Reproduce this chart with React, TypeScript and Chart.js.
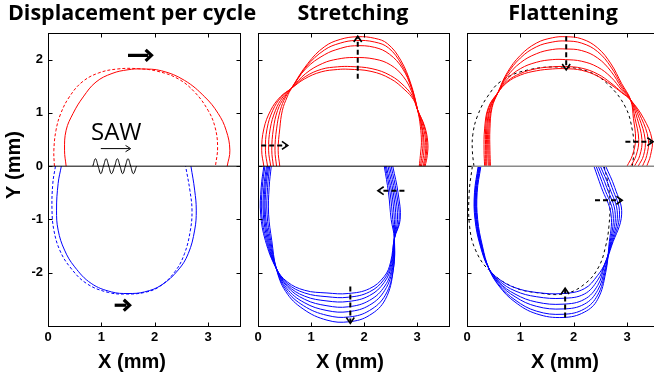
import React, { useEffect, useRef } from 'react';
import { Chart, registerables } from 'chart.js';

Chart.register(...registerables);

type Pt = [number, number];
type ArrowKind = 'bold' | 'dash' | 'thin';
interface Arrow { from: Pt; to: Pt; kind: ArrowKind }
interface Series { points: Pt[]; color: string; dash?: number[]; width?: number; tension?: number }

// ---------------- axes ----------------
const xMin = 0, xMax = 3.6, yMin = -3, yMax = 2.5;
const tickStep = 1;
const hiddenYTick = -3;

// ---------------- texts ----------------
const panelTitles = ['Displacement per cycle', 'Stretching', 'Flattening'];
const xAxisTitle = 'X (mm)';
const yAxisTitle = 'Y (mm)';
const sawLabel = 'SAW';
const sawLabelAt: Pt = [1.28, 0.49];

// ---------------- panel 1: displacement per cycle ----------------
const dispRedSolid: Pt[] = [[0.34,0],[0.31,0.3],[0.34,0.675],[0.47,0.99],[0.66,1.3],[0.9,1.58],[1.2,1.74],[1.5,1.81],[1.75,1.825],[2.13,1.79],[2.56,1.61],[2.94,1.3],[3.19,0.99],[3.34,0.675],[3.41,0.3],[3.36,0]];
const dispRedDashed: Pt[] = [[0.12,0],[0.11,0.3],[0.15,0.675],[0.24,0.99],[0.4,1.3],[0.64,1.58],[0.95,1.75],[1.31,1.825],[1.69,1.83],[2.06,1.78],[2.44,1.64],[2.75,1.39],[3.0,1.05],[3.13,0.74],[3.18,0.36],[3.14,0]];
const dispBlueSolid: Pt[] = [[0.25,0],[0.19,-0.325],[0.16,-0.825],[0.19,-1.2],[0.31,-1.575],[0.5,-1.89],[0.81,-2.2],[1.19,-2.36],[1.5,-2.39],[1.81,-2.36],[2.13,-2.23],[2.44,-1.95],[2.63,-1.64],[2.75,-1.2],[2.78,-0.825],[2.75,-0.45],[2.68,0]];
const dispBlueDashed: Pt[] = [[0.14,0],[0.09,-0.325],[0.075,-0.825],[0.11,-1.2],[0.22,-1.575],[0.41,-1.89],[0.72,-2.2],[1.13,-2.37],[1.47,-2.4],[1.81,-2.37],[2.09,-2.26],[2.38,-1.98],[2.56,-1.64],[2.67,-1.2],[2.7,-0.825],[2.66,-0.45],[2.58,0]];
const sawWave: Pt[] = [[0.84,0],[0.89,0.14],[0.94,0],[0.99,-0.14],[1.04,0],[1.09,0.14],[1.14,0],[1.19,-0.14],[1.25,0],[1.3,0.14],[1.35,0],[1.4,-0.14],[1.45,0],[1.5,0.14],[1.55,0],[1.6,-0.14],[1.66,0]];
const zeroLine: Pt[] = [[0,0],[3.6,0]];
const dispArrows: Arrow[] = [
  { from: [1.5, 2.08], to: [1.94, 2.08], kind: 'bold' },
  { from: [1.25, -2.61], to: [1.53, -2.61], kind: 'bold' },
  { from: [0.99, 0.33], to: [1.55, 0.33], kind: 'thin' },
];

// ---------------- panel 2: stretching ----------------
const stretchRed0: Pt[] = [[0.11,0],[0.07,0.3],[0.11,0.7],[0.24,1.05],[0.42,1.3],[0.63,1.46],[0.88,1.64],[1.19,1.77],[1.5,1.815],[1.7,1.82],[2.13,1.78],[2.5,1.64],[2.77,1.43],[2.93,1.25],[3.01,1.05],[3.14,0.75],[3.2,0.45],[3.19,0.2],[3.15,0]];
const stretchRed1: Pt[] = [[0.18,0],[0.14,0.3],[0.17,0.7],[0.28,1.05],[0.44,1.3],[0.63,1.46],[0.89,1.68],[1.2,1.82],[1.5,1.865],[1.75,1.87],[2.15,1.83],[2.5,1.7],[2.76,1.5],[2.92,1.3],[3.01,1.05],[3.13,0.75],[3.18,0.45],[3.17,0.2],[3.13,0]];
const stretchRed2: Pt[] = [[0.24,0],[0.2,0.3],[0.23,0.7],[0.33,1.05],[0.47,1.3],[0.63,1.46],[0.9,1.74],[1.22,1.93],[1.5,2.01],[1.8,2.04],[2.2,2.01],[2.5,1.9],[2.74,1.68],[2.9,1.39],[3.01,1.05],[3.11,0.75],[3.16,0.45],[3.15,0.2],[3.11,0]];
const stretchRed3: Pt[] = [[0.29,0],[0.26,0.3],[0.29,0.7],[0.37,1.05],[0.5,1.3],[0.63,1.46],[0.9,1.83],[1.25,2.09],[1.55,2.21],[1.82,2.26],[2.2,2.23],[2.48,2.1],[2.72,1.84],[2.89,1.47],[3.01,1.05],[3.09,0.75],[3.13,0.45],[3.12,0.2],[3.08,0]];
const stretchRed4: Pt[] = [[0.35,0],[0.32,0.3],[0.35,0.7],[0.42,1.05],[0.52,1.3],[0.63,1.46],[0.92,1.88],[1.25,2.18],[1.55,2.31],[1.85,2.36],[2.2,2.33],[2.46,2.22],[2.7,1.92],[2.88,1.52],[3.01,1.05],[3.08,0.75],[3.11,0.45],[3.09,0.2],[3.06,0]];
const stretchRed5: Pt[] = [[0.41,0],[0.38,0.3],[0.41,0.7],[0.46,1.05],[0.55,1.3],[0.63,1.46],[0.94,1.93],[1.25,2.24],[1.55,2.38],[1.88,2.43],[2.2,2.4],[2.44,2.3],[2.69,1.99],[2.88,1.55],[3.01,1.05],[3.06,0.75],[3.08,0.45],[3.06,0.2],[3.04,0]];
const stretchBlue0: Pt[] = [[0.11,0],[0.06,-0.4],[0.05,-0.9],[0.14,-1.4],[0.345,-1.92],[0.55,-2.17],[0.88,-2.33],[1.3,-2.38],[1.7,-2.39],[2.1,-2.3],[2.38,-2.07],[2.5,-1.8],[2.57,-1.36],[2.68,-1.0],[2.64,-0.5],[2.54,0]];
const stretchBlue1: Pt[] = [[0.13,0],[0.08,-0.4],[0.07,-0.9],[0.16,-1.4],[0.345,-1.92],[0.55,-2.2],[0.88,-2.38],[1.3,-2.45],[1.7,-2.46],[2.1,-2.36],[2.38,-2.12],[2.51,-1.82],[2.57,-1.36],[2.66,-1.0],[2.61,-0.5],[2.51,0]];
const stretchBlue2: Pt[] = [[0.16,0],[0.11,-0.4],[0.1,-0.9],[0.18,-1.4],[0.345,-1.92],[0.55,-2.23],[0.88,-2.44],[1.3,-2.53],[1.7,-2.54],[2.1,-2.43],[2.38,-2.18],[2.52,-1.85],[2.57,-1.36],[2.63,-1.0],[2.58,-0.5],[2.48,0]];
const stretchBlue3: Pt[] = [[0.18,0],[0.13,-0.4],[0.12,-0.9],[0.2,-1.4],[0.345,-1.92],[0.55,-2.26],[0.88,-2.5],[1.3,-2.62],[1.7,-2.64],[2.1,-2.52],[2.39,-2.25],[2.53,-1.88],[2.57,-1.36],[2.6,-1.0],[2.55,-0.5],[2.45,0]];
const stretchBlue4: Pt[] = [[0.2,0],[0.15,-0.4],[0.14,-0.9],[0.22,-1.4],[0.345,-1.92],[0.54,-2.29],[0.87,-2.56],[1.3,-2.71],[1.71,-2.73],[2.1,-2.61],[2.39,-2.33],[2.54,-1.9],[2.57,-1.36],[2.57,-1.0],[2.52,-0.5],[2.42,0]];
const stretchBlue5: Pt[] = [[0.22,0],[0.18,-0.4],[0.17,-0.9],[0.24,-1.4],[0.345,-1.92],[0.53,-2.32],[0.86,-2.62],[1.3,-2.8],[1.72,-2.83],[2.1,-2.71],[2.4,-2.42],[2.55,-1.93],[2.57,-1.36],[2.54,-1.0],[2.49,-0.5],[2.4,0]];
const stretchBlue6: Pt[] = [[0.25,0],[0.21,-0.4],[0.2,-0.9],[0.26,-1.4],[0.345,-1.92],[0.52,-2.35],[0.85,-2.68],[1.3,-2.89],[1.72,-2.92],[2.1,-2.8],[2.4,-2.5],[2.55,-1.95],[2.57,-1.36],[2.51,-1.0],[2.46,-0.5],[2.38,0]];
const stretchArrows: Arrow[] = [
  { from: [1.88, 1.64], to: [1.88, 2.44], kind: 'dash' },
  { from: [0.06, 0.39], to: [0.56, 0.39], kind: 'dash' },
  { from: [2.76, -0.46], to: [2.26, -0.46], kind: 'dash' },
  { from: [1.74, -2.26], to: [1.74, -2.95], kind: 'dash' },
];

// ---------------- panel 3: flattening ----------------
const flatRed0: Pt[] = [[0.44,0],[0.43,0.3],[0.43,0.7],[0.47,1.1],[0.58,1.38],[0.75,1.75],[1.0,2.08],[1.3,2.31],[1.6,2.41],[1.85,2.43],[2.15,2.39],[2.45,2.22],[2.7,1.92],[2.9,1.55],[3.07,1.24],[3.12,0.9],[3.16,0.5],[3.1,0.2],[3.0,0]];
const flatRed1: Pt[] = [[0.42,0],[0.41,0.3],[0.41,0.7],[0.46,1.1],[0.58,1.38],[0.75,1.72],[1.0,2.03],[1.3,2.24],[1.6,2.33],[1.85,2.35],[2.15,2.31],[2.45,2.15],[2.7,1.86],[2.9,1.51],[3.07,1.24],[3.15,0.9],[3.22,0.5],[3.17,0.2],[3.07,0]];
const flatRed2: Pt[] = [[0.4,0],[0.39,0.3],[0.39,0.7],[0.44,1.1],[0.58,1.38],[0.75,1.68],[1.0,1.94],[1.3,2.11],[1.6,2.19],[1.85,2.2],[2.15,2.17],[2.45,2.03],[2.7,1.78],[2.9,1.47],[3.07,1.24],[3.19,0.9],[3.28,0.5],[3.24,0.2],[3.14,0]];
const flatRed3: Pt[] = [[0.37,0],[0.37,0.3],[0.37,0.7],[0.43,1.1],[0.58,1.38],[0.75,1.63],[1.0,1.83],[1.3,1.95],[1.6,2.0],[1.85,2.0],[2.15,1.97],[2.45,1.86],[2.7,1.67],[2.9,1.43],[3.07,1.24],[3.23,0.9],[3.34,0.5],[3.31,0.2],[3.21,0]];
const flatRed4: Pt[] = [[0.35,0],[0.35,0.3],[0.35,0.7],[0.41,1.1],[0.58,1.38],[0.75,1.59],[1.0,1.74],[1.3,1.83],[1.6,1.865],[1.85,1.87],[2.15,1.84],[2.45,1.73],[2.7,1.56],[2.9,1.39],[3.07,1.24],[3.27,0.9],[3.4,0.5],[3.37,0.2],[3.29,0]];
const flatRed5: Pt[] = [[0.33,0],[0.32,0.3],[0.33,0.7],[0.4,1.1],[0.58,1.38],[0.75,1.57],[1.0,1.71],[1.3,1.79],[1.6,1.825],[1.85,1.83],[2.15,1.8],[2.45,1.69],[2.7,1.53],[2.9,1.38],[3.07,1.24],[3.31,0.9],[3.47,0.5],[3.44,0.2],[3.37,0]];
const flatBlue0: Pt[] = [[0.26,0],[0.19,-0.5],[0.2,-1.0],[0.29,-1.5],[0.41,-1.92],[0.6,-2.25],[0.9,-2.55],[1.3,-2.77],[1.8,-2.84],[2.2,-2.74],[2.45,-2.5],[2.6,-2.0],[2.66,-1.5],[2.7,-0.9],[2.52,-0.4],[2.38,0]];
const flatBlue1: Pt[] = [[0.25,0],[0.18,-0.5],[0.19,-1.0],[0.28,-1.5],[0.41,-1.92],[0.6,-2.23],[0.9,-2.51],[1.3,-2.72],[1.8,-2.78],[2.2,-2.68],[2.45,-2.42],[2.59,-1.98],[2.67,-1.5],[2.74,-0.9],[2.57,-0.4],[2.42,0]];
const flatBlue2: Pt[] = [[0.24,0],[0.17,-0.5],[0.18,-1.0],[0.27,-1.5],[0.41,-1.92],[0.6,-2.2],[0.9,-2.45],[1.3,-2.63],[1.8,-2.68],[2.2,-2.59],[2.45,-2.33],[2.58,-1.95],[2.68,-1.5],[2.78,-0.9],[2.62,-0.4],[2.46,0]];
const flatBlue3: Pt[] = [[0.23,0],[0.16,-0.5],[0.17,-1.0],[0.27,-1.5],[0.41,-1.92],[0.6,-2.18],[0.9,-2.4],[1.3,-2.55],[1.8,-2.59],[2.2,-2.5],[2.45,-2.24],[2.57,-1.9],[2.69,-1.5],[2.82,-0.9],[2.67,-0.4],[2.5,0]];
const flatBlue4: Pt[] = [[0.22,0],[0.15,-0.5],[0.16,-1.0],[0.26,-1.5],[0.41,-1.92],[0.6,-2.15],[0.9,-2.34],[1.3,-2.45],[1.8,-2.48],[2.2,-2.4],[2.45,-2.14],[2.58,-1.84],[2.7,-1.5],[2.86,-0.9],[2.72,-0.4],[2.55,0]];
const flatBlue5: Pt[] = [[0.21,0],[0.14,-0.5],[0.15,-1.0],[0.25,-1.5],[0.41,-1.92],[0.6,-2.12],[0.9,-2.28],[1.3,-2.37],[1.8,-2.39],[2.2,-2.3],[2.45,-2.05],[2.6,-1.8],[2.71,-1.5],[2.9,-0.9],[2.77,-0.4],[2.6,0]];
const flatRefUpper: Pt[] = [[0.13,0],[0.1,0.3],[0.11,0.6],[0.19,0.925],[0.38,1.3],[0.66,1.61],[1.16,1.81],[1.79,1.86],[2.29,1.77],[2.66,1.52],[2.97,1.11],[3.1,0.675],[3.13,0.3],[3.1,0]];
const flatRefLower: Pt[] = [[0.1,0],[0.04,-0.51],[0.05,-1.14],[0.16,-1.575],[0.41,-1.95],[0.85,-2.26],[1.35,-2.38],[1.85,-2.39],[2.22,-2.2],[2.47,-1.89],[2.6,-1.5],[2.66,-1.14],[2.68,-0.64],[2.63,-0.26],[2.57,0]];
const flatArrows: Arrow[] = [
  { from: [1.86, 2.44], to: [1.86, 1.81], kind: 'dash' },
  { from: [2.97, 0.46], to: [3.49, 0.46], kind: 'dash' },
  { from: [2.4, -0.64], to: [2.91, -0.64], kind: 'dash' },
  { from: [1.84, -2.84], to: [1.84, -2.29], kind: 'dash' },
];

// ---------------- layout (pixels) ----------------
const W = 654, H = 381;
const AREA_TOP = 33, AREA_BOTTOM = 326;
const RED = '#ff0000', BLUE = '#0000ff', BLACK = '#000000';

interface PanelSpec {
  title: string; titleX: number; xTitleX: number;
  left: number; right: number; canvasWidth: number; yAxisWidth: number;
  showYLabels: boolean; showYTitle: boolean; showSaw: boolean;
  series: Series[]; arrows: Arrow[];
}

const panels: PanelSpec[] = [
  {
    title: panelTitles[0], titleX: 132, xTitleX: 132,
    left: 48, right: 240, canvasWidth: W, yAxisWidth: 48,
    showYLabels: true, showYTitle: true, showSaw: true,
    series: [
      { points: zeroLine, color: BLACK, tension: 0 },
      { points: dispRedDashed, color: RED, dash: [3, 2] },
      { points: dispRedSolid, color: RED },
      { points: dispBlueDashed, color: BLUE, dash: [3, 2] },
      { points: dispBlueSolid, color: BLUE },
      { points: sawWave, color: BLACK },
    ],
    arrows: dispArrows,
  },
  {
    title: panelTitles[1], titleX: 353, xTitleX: 350,
    left: 258, right: 449, canvasWidth: W, yAxisWidth: 0,
    showYLabels: false, showYTitle: false, showSaw: false,
    series: [
      { points: zeroLine, color: BLACK, tension: 0 },
      ...[stretchRed0, stretchRed1, stretchRed2, stretchRed3, stretchRed4, stretchRed5].map(p => ({ points: p, color: RED })),
      ...[stretchBlue0, stretchBlue1, stretchBlue2, stretchBlue3, stretchBlue4, stretchBlue5, stretchBlue6].map(p => ({ points: p, color: BLUE })),
    ],
    arrows: stretchArrows,
  },
  {
    title: panelTitles[2], titleX: 563, xTitleX: 565,
    left: 467, right: 659, canvasWidth: 700, yAxisWidth: 0,
    showYLabels: false, showYTitle: false, showSaw: false,
    series: [
      { points: zeroLine, color: '#8a8a8a', width: 1.6, tension: 0 },
      ...[flatRed0, flatRed1, flatRed2, flatRed3, flatRed4, flatRed5].map(p => ({ points: p, color: RED })),
      ...[flatBlue0, flatBlue1, flatBlue2, flatBlue3, flatBlue4, flatBlue5].map(p => ({ points: p, color: BLUE })),
      { points: flatRefUpper, color: BLACK, dash: [3, 3] },
      { points: flatRefLower, color: BLACK, dash: [3, 3] },
    ],
    arrows: flatArrows,
  },
];

function drawArrow(ctx: CanvasRenderingContext2D, x1: number, y1: number, x2: number, y2: number, kind: ArrowKind) {
  const ang = Math.atan2(y2 - y1, x2 - x1);
  let lw = 1, head = 6, hw = 1, spread = 0.55;
  let dash: number[] = [];
  if (kind === 'bold') { lw = 3.2; head = 8; hw = 3.2; spread = 0.75; }
  if (kind === 'dash') { lw = 2; head = 7; hw = 1.6; spread = 0.6; dash = [5, 3]; }
  ctx.save();
  ctx.strokeStyle = BLACK;
  ctx.lineCap = 'butt';
  ctx.lineJoin = 'miter';
  ctx.lineWidth = lw;
  ctx.setLineDash(dash);
  ctx.beginPath();
  ctx.moveTo(x1, y1);
  ctx.lineTo(x2 - Math.cos(ang) * hw, y2 - Math.sin(ang) * hw);
  ctx.stroke();
  ctx.setLineDash([]);
  ctx.lineWidth = hw;
  ctx.beginPath();
  ctx.moveTo(x2 - head * Math.cos(ang - spread), y2 - head * Math.sin(ang - spread));
  ctx.lineTo(x2, y2);
  ctx.lineTo(x2 - head * Math.cos(ang + spread), y2 - head * Math.sin(ang + spread));
  ctx.stroke();
  ctx.restore();
}

function overlayPlugin(spec: PanelSpec) {
  return {
    id: 'overlay',
    afterDatasetsDraw(chart: any) {
      const { ctx, chartArea: a, scales } = chart;
      const xs = scales.x, ys = scales.y;
      ctx.save();
      ctx.strokeStyle = BLACK;
      ctx.lineWidth = 1;
      ctx.setLineDash([]);
      ctx.strokeRect(a.left + 0.5, a.top + 0.5, a.right - a.left, a.bottom - a.top);
      const TL = 4;
      ctx.beginPath();
      xs.ticks.forEach((t: any) => {
        const px = Math.round(xs.getPixelForValue(t.value)) + 0.5;
        ctx.moveTo(px, a.bottom + 0.5); ctx.lineTo(px, a.bottom + 0.5 - TL);
        ctx.moveTo(px, a.top + 0.5); ctx.lineTo(px, a.top + 0.5 + TL);
      });
      ys.ticks.forEach((t: any) => {
        const py = Math.round(ys.getPixelForValue(t.value)) + 0.5;
        ctx.moveTo(a.left + 0.5, py); ctx.lineTo(a.left + 0.5 + TL, py);
        ctx.moveTo(a.right + 0.5, py); ctx.lineTo(a.right + 0.5 - TL, py);
      });
      ctx.stroke();
      spec.arrows.forEach(ar => drawArrow(ctx,
        xs.getPixelForValue(ar.from[0]), ys.getPixelForValue(ar.from[1]),
        xs.getPixelForValue(ar.to[0]), ys.getPixelForValue(ar.to[1]), ar.kind));
      if (spec.showSaw) {
        ctx.fillStyle = BLACK;
        ctx.font = '24px "Open Sans"';
        ctx.textAlign = 'center';
        ctx.textBaseline = 'alphabetic';
        ctx.fillText(sawLabel, xs.getPixelForValue(sawLabelAt[0]), ys.getPixelForValue(sawLabelAt[1]));
      }
      ctx.restore();
    },
    afterDraw(chart: any) {
      const { ctx } = chart;
      ctx.save();
      ctx.fillStyle = BLACK;
      ctx.textAlign = 'center';
      ctx.textBaseline = 'alphabetic';
      ctx.font = 'bold 21.5px "Open Sans"';
      ctx.fillText(spec.title, spec.titleX, 20);
      ctx.font = 'bold 20px "Liberation Sans"';
      ctx.fillText(xAxisTitle, spec.xTitleX, 368);
      if (spec.showYTitle) {
        ctx.translate(19.5, 165);
        ctx.rotate(-Math.PI / 2);
        ctx.fillText(yAxisTitle, 0, 0);
      }
      ctx.restore();
    },
  };
}

function makeChart(canvas: HTMLCanvasElement, spec: PanelSpec) {
  const tickFont = { family: 'Liberation Sans', size: 13, weight: 'bold' as const };
  return new Chart(canvas, {
    type: 'scatter',
    data: {
      datasets: spec.series.map(s => ({
        data: s.points.map(([x, y]) => ({ x, y })),
        borderColor: s.color,
        backgroundColor: s.color,
        borderWidth: s.width ?? 1,
        borderDash: s.dash ?? [],
        showLine: true,
        pointRadius: 0,
        pointHoverRadius: 0,
        tension: s.tension ?? 0.4,
        fill: false,
      })),
    },
    options: {
      animation: false,
      responsive: false,
      events: [],
      layout: { padding: { left: spec.left - spec.yAxisWidth, right: spec.canvasWidth - spec.right, top: AREA_TOP, bottom: 0 } },
      plugins: { legend: { display: false }, tooltip: { enabled: false }, title: { display: false } },
      scales: {
        x: {
          type: 'linear', min: xMin, max: xMax,
          ticks: { stepSize: tickStep, includeBounds: false, font: tickFont, color: BLACK, padding: 4, maxRotation: 0, autoSkip: false },
          grid: { display: false, drawTicks: false },
          border: { display: false },
          afterFit: (s: any) => { s.height = H - AREA_BOTTOM; },
        },
        y: {
          type: 'linear', min: yMin, max: yMax,
          ticks: {
            display: spec.showYLabels, stepSize: tickStep, includeBounds: false, font: tickFont, color: BLACK, padding: 5, autoSkip: false,
            callback: (v: any) => (Number(v) === hiddenYTick ? '' : String(v)),
          },
          grid: { display: false, drawTicks: false },
          border: { display: false },
          afterFit: (s: any) => { s.width = spec.yAxisWidth; },
        },
      },
    } as any,
    plugins: [overlayPlugin(spec)],
  });
}

export default function App() {
  const r0 = useRef<HTMLCanvasElement>(null);
  const r1 = useRef<HTMLCanvasElement>(null);
  const r2 = useRef<HTMLCanvasElement>(null);
  useEffect(() => {
    const refs = [r0, r1, r2];
    const charts = panels.map((p, i) => makeChart(refs[i].current as HTMLCanvasElement, p));
    return () => charts.forEach(c => c.destroy());
  }, []);
  const refs = [r0, r1, r2];
  return (
    <div style={{ position: 'fixed', left: 0, top: 0, width: W, height: H, overflow: 'hidden', background: '#fff' }}>
      {panels.map((p, i) => (
        <canvas key={i} ref={refs[i]} width={p.canvasWidth} height={H}
          style={{ position: 'absolute', left: 0, top: 0, width: p.canvasWidth, height: H }} />
      ))}
    </div>
  );
}
